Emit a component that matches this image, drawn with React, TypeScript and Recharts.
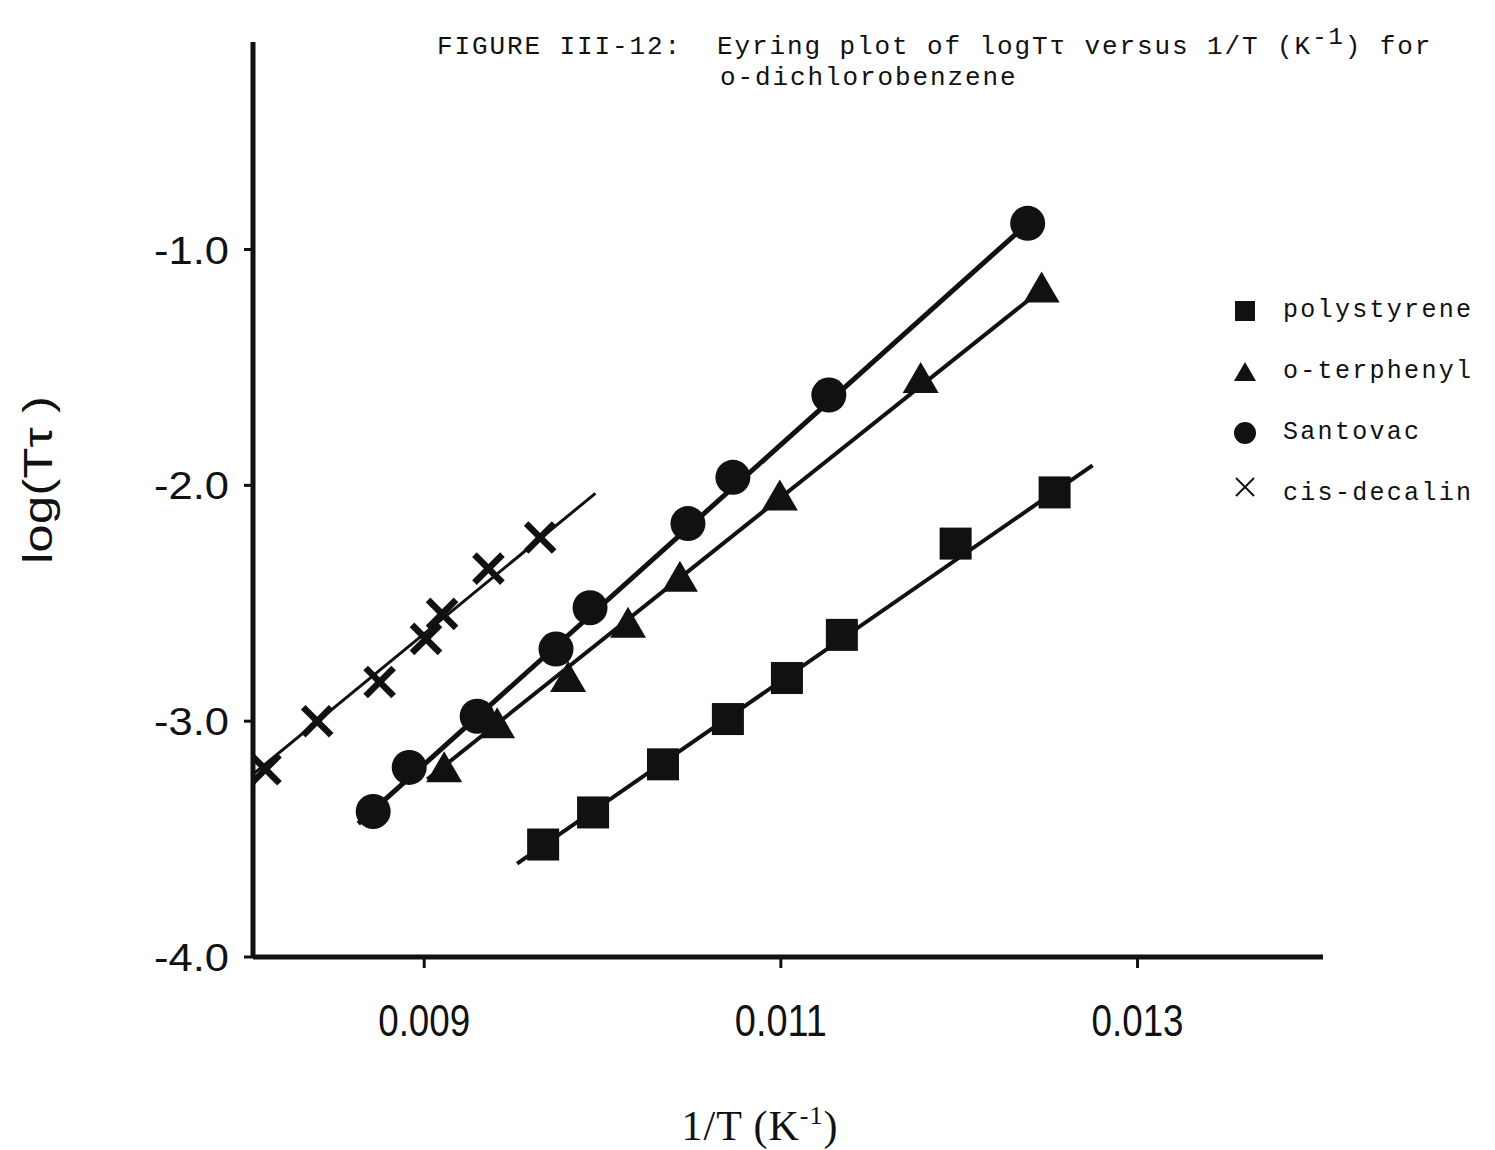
import { ComposedChart, Scatter, XAxis, YAxis, Legend } from 'recharts'

// 1/T (K^-1) vs log(T*tau)
type Pt = { x: number; y: number }

const polystyrene: Pt[] = [
  { x: 0.009667, y: -3.523 },
  { x: 0.009947, y: -3.387 },
  { x: 0.010339, y: -3.183 },
  { x: 0.010703, y: -2.991 },
  { x: 0.011034, y: -2.817 },
  { x: 0.011342, y: -2.634 },
  { x: 0.01198, y: -2.247 },
  { x: 0.012535, y: -2.03 },
]
const oTerphenyl: Pt[] = [
  { x: 0.009112, y: -3.204 },
  { x: 0.009409, y: -3.017 },
  { x: 0.009807, y: -2.821 },
  { x: 0.010143, y: -2.591 },
  { x: 0.010434, y: -2.396 },
  { x: 0.010994, y: -2.051 },
  { x: 0.011784, y: -1.553 },
  { x: 0.012462, y: -1.17 },
]
const santovac: Pt[] = [
  { x: 0.008714, y: -3.383 },
  { x: 0.008916, y: -3.196 },
  { x: 0.009297, y: -2.979 },
  { x: 0.009739, y: -2.694 },
  { x: 0.00993, y: -2.519 },
  { x: 0.010479, y: -2.162 },
  { x: 0.010731, y: -1.966 },
  { x: 0.011269, y: -1.617 },
  { x: 0.012384, y: -0.889 },
]
const cisDecalin: Pt[] = [
  { x: 0.00811, y: -3.204 },
  { x: 0.0084, y: -3.0 },
  { x: 0.00875, y: -2.834 },
  { x: 0.00901, y: -2.651 },
  { x: 0.0091, y: -2.545 },
  { x: 0.00936, y: -2.353 },
  { x: 0.00965, y: -2.221 },
]

// straight fit lines, end points as drawn
const polystyreneFit: Pt[] = [{ x: 0.009521, y: -3.604 }, { x: 0.012748, y: -1.915 }]
const oTerphenylFit: Pt[] = [{ x: 0.009017, y: -3.247 }, { x: 0.012462, y: -1.17 }]
const santovacFit: Pt[] = [{ x: 0.00863, y: -3.434 }, { x: 0.012384, y: -0.889 }]
const cisDecalinFit: Pt[] = [{ x: 0.008025, y: -3.234 }, { x: 0.00996, y: -2.034 }]

const xTicks = [0.009, 0.011, 0.013]
const yTicks = [-1, -2, -3, -4]
const legendNames = ['polystyrene', 'o-terphenyl', 'Santovac', 'cis-decalin']

const INK = '#111'
const MONO = '"Liberation Mono", "DejaVu Sans Mono", monospace'
const SANS = '"Liberation Sans", Arial, sans-serif'
const SERIF = '"Liberation Serif", "Times New Roman", serif'

const Square = ({ cx, cy }: any) => <rect x={cx - 16} y={cy - 16} width={32} height={32} fill={INK} />
const Triangle = ({ cx, cy }: any) => (
  <polygon points={`${cx},${cy - 18} ${cx - 18},${cy + 13} ${cx + 18},${cy + 13}`} fill={INK} />
)
const Dot = ({ cx, cy }: any) => <circle cx={cx} cy={cy} r={17.5} fill={INK} />
const Cross = ({ cx, cy }: any) => (
  <g stroke={INK} strokeWidth={6.5}>
    <line x1={cx - 14} y1={cy - 14} x2={cx + 14} y2={cy + 14} />
    <line x1={cx - 14} y1={cy + 14} x2={cx + 14} y2={cy - 14} />
  </g>
)
const NoShape = () => <g />

const XTick = ({ x, y, payload }: any) => (
  <text x={x} y={y + 66} textAnchor="middle" fontFamily={SANS} fontSize={44} fill={INK}
    textLength={92} lengthAdjust="spacingAndGlyphs">
    {payload.value.toFixed(3)}
  </text>
)
const YTick = ({ x, y, payload }: any) => (
  <text x={x - 13} y={y + 14} textAnchor="end" fontFamily={SANS} fontSize={39} fill={INK}
    textLength={75} lengthAdjust="spacingAndGlyphs">
    {payload.value.toFixed(1)}
  </text>
)

const legendIcon = (i: number) => {
  if (i === 0) return <rect x={2} y={2} width={20} height={20} fill={INK} />
  if (i === 1) return <polygon points="12,2 1,21 23,21" fill={INK} />
  if (i === 2) return <circle cx={12} cy={12} r={11} fill={INK} />
  return (
    <g stroke={INK} strokeWidth={2}>
      <line x1={3} y1={1} x2={21} y2={19} />
      <line x1={3} y1={19} x2={21} y2={1} />
    </g>
  )
}

const renderLegend = () => (
  <div style={{ fontFamily: MONO, fontSize: 25, letterSpacing: 2.3, color: INK }}>
    {legendNames.map((name, i) => (
      <div key={name} style={{ height: 61, display: 'flex', alignItems: 'center' }}>
        <svg width={24} height={24} style={{ marginRight: 26, marginTop: i === 3 ? -10 : 0 }}>
          {legendIcon(i)}
        </svg>
        <span>{name}</span>
      </div>
    ))}
  </div>
)

export default function App() {
  return (
    <div style={{ position: 'absolute', left: 0, top: 0, width: 1495, height: 1150, background: '#fff' }}>
      <div
        style={{
          position: 'absolute', left: 437, top: 32, fontFamily: MONO, fontSize: 26,
          letterSpacing: 1.9, color: INK, whiteSpace: 'pre', lineHeight: '31px', zIndex: 2,
        }}
      >
        <div>
          FIGURE III-12:  Eyring plot of logTτ versus 1/T (K
          <sup style={{ fontSize: 24, lineHeight: 0 }}>-1</sup>) for
        </div>
        <div style={{ paddingLeft: 283 }}>o-dichlorobenzene</div>
      </div>
      <ComposedChart width={1495} height={1150} margin={{ top: 42, right: 172, left: 153, bottom: 93 }}>
        <XAxis
          type="number"
          dataKey="x"
          domain={[0.00804, 0.01404]}
          ticks={xTicks}
          allowDataOverflow
          height={100}
          axisLine={{ stroke: INK, strokeWidth: 5 }}
          tickLine={{ stroke: INK, strokeWidth: 3 }}
          tickSize={11}
          tick={<XTick />}
          label={{
            content: () => (
              <text x={760} y={1140} textAnchor="middle" fontFamily={SERIF} fontSize={42} fill={INK} letterSpacing={1}>
                1/T (K<tspan fontSize={26} dy={-16}>-1</tspan>
                <tspan dy={16}>)</tspan>
              </text>
            ),
          }}
        />
        <YAxis
          type="number"
          dataKey="y"
          domain={[-4, -0.12]}
          ticks={yTicks}
          allowDataOverflow
          width={100}
          axisLine={{ stroke: INK, strokeWidth: 5 }}
          tickLine={{ stroke: INK, strokeWidth: 3 }}
          tickSize={9}
          tick={<YTick />}
          label={{
            content: () => (
              <text x={38} y={480} transform="rotate(-90 38 480)" textAnchor="middle" dominantBaseline="central"
                fontFamily={SANS} fontSize={40} fill={INK} textLength={168} lengthAdjust="spacingAndGlyphs">
                log(Tτ )
              </text>
            ),
          }}
        />
        <Legend
          layout="vertical"
          align="center"
          verticalAlign="middle"
          content={renderLegend}
          wrapperStyle={{ left: 1233, top: 280, width: 262 }}
        />
        <Scatter data={cisDecalinFit} fill={INK} shape={<NoShape />} line={{ stroke: INK, strokeWidth: 3 }} isAnimationActive={false} legendType="none" />
        <Scatter data={santovacFit} fill={INK} shape={<NoShape />} line={{ stroke: INK, strokeWidth: 5 }} isAnimationActive={false} legendType="none" />
        <Scatter data={oTerphenylFit} fill={INK} shape={<NoShape />} line={{ stroke: INK, strokeWidth: 4 }} isAnimationActive={false} legendType="none" />
        <Scatter data={polystyreneFit} fill={INK} shape={<NoShape />} line={{ stroke: INK, strokeWidth: 4 }} isAnimationActive={false} legendType="none" />
        <Scatter name="polystyrene" data={polystyrene} fill={INK} shape={<Square />} isAnimationActive={false} />
        <Scatter name="o-terphenyl" data={oTerphenyl} fill={INK} shape={<Triangle />} isAnimationActive={false} />
        <Scatter name="Santovac" data={santovac} fill={INK} shape={<Dot />} isAnimationActive={false} />
        <Scatter name="cis-decalin" data={cisDecalin} fill={INK} shape={<Cross />} isAnimationActive={false} />
      </ComposedChart>
    </div>
  )
}
